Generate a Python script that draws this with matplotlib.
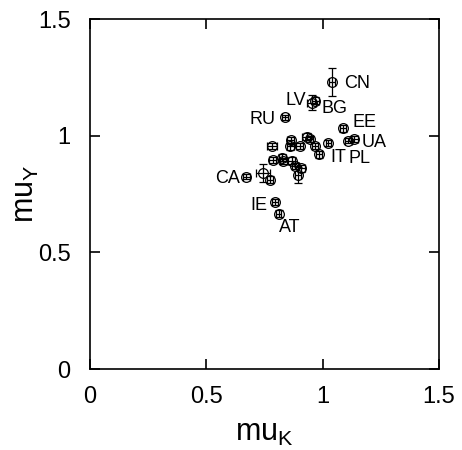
import numpy as np
import matplotlib
matplotlib.use("Agg")
import matplotlib.pyplot as plt

plt.rcParams["font.family"] = ["Liberation Sans", "DejaVu Sans"]

# estimated (mu_K, mu_Y) per country with error bars
mu_k = [1.039, 0.953, 0.969, 0.838, 1.087, 1.109, 1.135, 1.025, 0.984,
        0.931, 0.944, 0.966, 0.902, 0.863, 0.860, 0.782, 0.785, 0.826,
        0.830, 0.868, 0.882, 0.908, 0.894, 0.742, 0.773, 0.672, 0.794, 0.811]
mu_y = [1.230, 1.142, 1.150, 1.078, 1.032, 0.979, 0.986, 0.969, 0.921,
        0.995, 0.986, 0.957, 0.955, 0.980, 0.955, 0.955, 0.895, 0.905,
        0.890, 0.892, 0.870, 0.860, 0.832, 0.840, 0.812, 0.825, 0.715, 0.665]
err_k = [0.012, 0.020, 0.015, 0.012, 0.012, 0.015, 0.015, 0.012, 0.012,
         0.020, 0.015, 0.012, 0.015, 0.015, 0.015, 0.020, 0.015, 0.015,
         0.015, 0.015, 0.015, 0.015, 0.012, 0.030, 0.012, 0.015, 0.012, 0.012]
err_y = [0.058, 0.032, 0.015, 0.012, 0.015, 0.012, 0.012, 0.012, 0.015,
         0.015, 0.012, 0.012, 0.012, 0.015, 0.015, 0.012, 0.012, 0.015,
         0.012, 0.015, 0.012, 0.015, 0.035, 0.040, 0.015, 0.012, 0.012, 0.015]

labels = ["CN", "LV", "BG", "RU", "EE", "UA", "IT", "PL", "CA", "IE", "AT"]
label_x = [1.094, 0.927, 0.994, 0.798, 1.130, 1.168, 1.034, 1.112, 0.644, 0.764, 0.811]
label_y = [1.222, 1.150, 1.115, 1.071, 1.057, 0.972, 0.906, 0.904, 0.815, 0.700, 0.607]
label_ha = ["left", "right", "left", "right", "left", "left", "left", "left", "right", "right", "left"]

fig = plt.figure(figsize=(4.62, 4.5), dpi=100)
ax = fig.add_axes([90 / 462, 1 - 369 / 450, 349 / 462, 350 / 450])

ax.errorbar(mu_k, mu_y, xerr=err_k, yerr=err_y, fmt="o", mfc="none", mec="black",
            ms=7, mew=0.9, ecolor="black", elinewidth=0.9, capsize=3, capthick=0.9)

for lab, lx, ly, ha in zip(labels, label_x, label_y, label_ha):
    ax.text(lx, ly, lab, ha=ha, va="center", fontsize=13)

ax.set_xlim(0, 1.5)
ax.set_ylim(0, 1.5)
ax.set_xticks([0, 0.5, 1, 1.5])
ax.set_yticks([0, 0.5, 1, 1.5])
ax.set_xticklabels(["0", "0.5", "1", "1.5"])
ax.set_yticklabels(["0", "0.5", "1", "1.5"])
ax.tick_params(direction="in", length=7, width=1.2, labelsize=17, top=True, right=True)
ax.tick_params(axis="x", pad=12)
ax.tick_params(axis="y", pad=14)
for s in ax.spines.values():
    s.set_linewidth(1.2)

ax.set_xlabel(r"mu$_\mathregular{K}$", fontsize=22)
ax.set_ylabel(r"mu$_\mathregular{Y}$", fontsize=22)
ax.xaxis.set_label_coords(0.5, -0.14)
ax.yaxis.set_label_coords(-0.14, 0.5)

fig.savefig("out.png", dpi=100)
